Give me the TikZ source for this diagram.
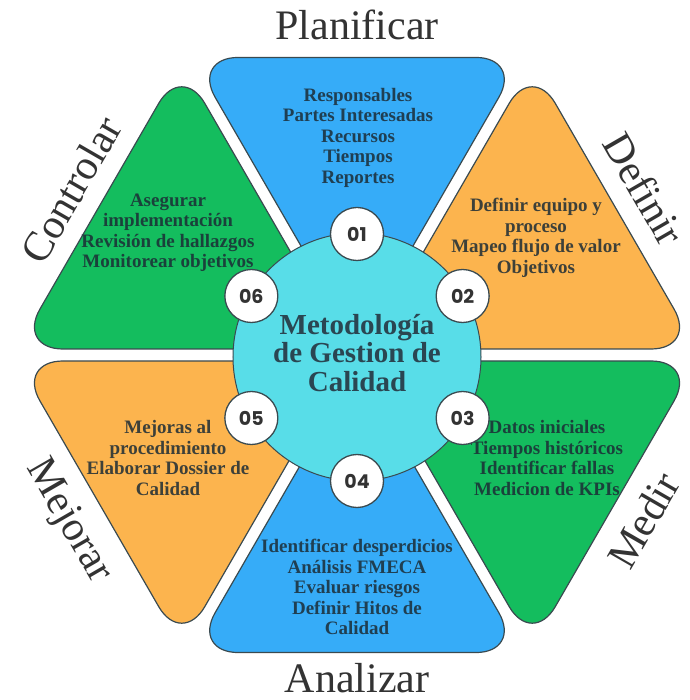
\documentclass[tikz,border=0pt]{standalone}
\usepackage{fontspec}
\usetikzlibrary{calc}
\setmainfont{Liberation Serif}
\newfontfamily\badgefont{Poppins}
\definecolor{pblue}{HTML}{36ACF8}
\definecolor{porange}{HTML}{FCB44E}
\definecolor{pgreen}{HTML}{14BD5E}
\definecolor{hubcyan}{HTML}{58DDE8}
\definecolor{edge}{HTML}{3A4A50}
\definecolor{inktext}{HTML}{1C2C36}
\definecolor{hubtext}{HTML}{2A4652}
\definecolor{labeltext}{HTML}{333333}
\begin{document}
\begin{tikzpicture}[x=1pt,y=1pt,
  petal/.style={draw=edge, line width=1.2pt, rounded corners=46pt},
  petaltext/.style={align=center, inner sep=0pt, text=inktext, text opacity=0.85,
    font=\fontsize{19}{20.5}\selectfont\bfseries},
  outerlabel/.style={inner sep=0pt, text=labeltext, text height=28pt, text depth=0pt,
    font=\fontsize{42}{42}\selectfont},
  badge/.style={circle, draw=edge, line width=1.3pt, fill=white, minimum size=53pt,
    inner sep=0pt, text=black!80, font=\badgefont\bfseries\fontsize{19}{19}\selectfont},
  hub/.style={circle, draw=edge, line width=1pt, fill=hubcyan, minimum size=248pt, inner sep=0pt}
]
\useasboundingbox (-357,-345) rectangle (332,355);
\fill[white] (-357,-345) rectangle (332,355);

% six rounded triangular sectors, each pushed outward along its bisector
\def\R{329.7}
\path[petal, fill=pblue,   shift={(90:12)}]  (0,0) -- (60:\R)  -- (120:\R) -- cycle;
\path[petal, fill=porange, shift={(30:12)}]  (0,0) -- (0:\R)   -- (60:\R)  -- cycle;
\path[petal, fill=pgreen,  shift={(-30:12)}] (0,0) -- (-60:\R) -- (0:\R)   -- cycle;
\path[petal, fill=pblue,   shift={(-90:12)}] (0,0) -- (-120:\R) -- (-60:\R) -- cycle;
\path[petal, fill=porange, shift={(-150:12)}] (0,0) -- (180:\R) -- (240:\R) -- cycle;
\path[petal, fill=pgreen,  shift={(150:12)}] (0,0) -- (120:\R) -- (180:\R) -- cycle;

% phase names around the hexagon
\node[outerlabel] (lplan) at (90:329) {Planificar};
\node[outerlabel, rotate=-60] (ldef) at (30:331) {Definir};
\node[outerlabel, rotate=60] (lmed) at (-30:331) {Medir};
\node[outerlabel] (lana) at (-90:323) {Analizar};
\node[outerlabel, rotate=-60] (lmej) at (-150:329) {Mejorar};
\node[outerlabel, rotate=60] (lcon) at (150:330) {Controlar};

% sector contents
\node[petaltext] (tplan) at (1,217.5) {Responsables\\Partes Interesadas\\Recursos\\Tiempos\\Reportes};
\node[petaltext] (tdef) at (179,117) {Definir equipo y\\proceso\\Mapeo flujo de valor\\Objetivos};
\node[petaltext] (tmed) at (190,-103) {Datos iniciales\\Tiempos históricos\\Identificar fallas\\Medicion de KPIs};
\node[petaltext] (tana) at (0,-232) {Identificar desperdicios\\Análisis FMECA\\Evaluar riesgos\\Definir Hitos de\\Calidad};
\node[petaltext] (tmej) at (-189,-103) {Mejoras al\\procedimiento\\Elaborar Dossier de\\Calidad};
\node[petaltext] (tcon) at (-189,122) {Asegurar\\implementación\\Revisión de hallazgos\\Monitorear objetivos};

% central hub
\node[hub] (hub) at (0,-2) {};
\node[align=center, inner sep=0pt, text=hubtext,
  font=\fontsize{29}{28.5}\selectfont\bfseries] (title) at (0,2) {Metodología\\de Gestion de\\Calidad};

% numbered badges on the hub rim
\node[badge] (b1) at ($(0,-2)+(90:123)$) {01};
\node[badge] (b2) at ($(0,-2)+(30:122)$) {02};
\node[badge] (b3) at ($(0,-2)+(-30:122)$) {03};
\node[badge] (b4) at ($(0,-2)+(-90:124)$) {04};
\node[badge] (b5) at ($(0,-2)+(-150:122)$) {05};
\node[badge] (b6) at ($(0,-2)+(150:122)$) {06};
\end{tikzpicture}
\end{document}
